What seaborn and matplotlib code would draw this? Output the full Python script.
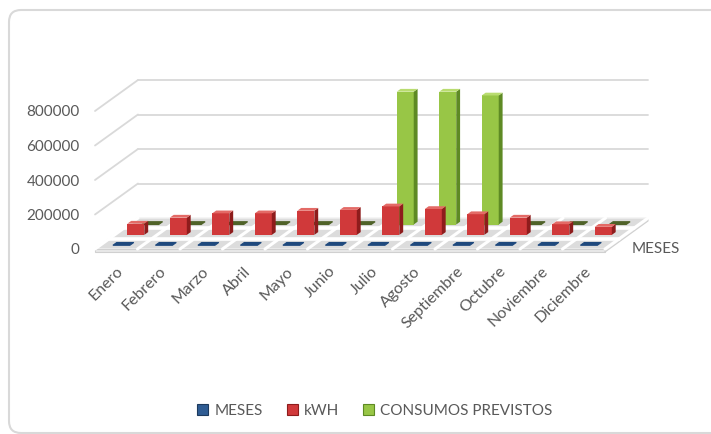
import matplotlib
matplotlib.use("Agg")
import matplotlib.pyplot as plt
import seaborn as sns
from matplotlib.patches import Polygon, FancyBboxPatch, Patch
from matplotlib.transforms import ScaledTranslation, IdentityTransform
from matplotlib.lines import Line2D

# ---------------- data ----------------
meses = ["Enero", "Febrero", "Marzo", "Abril", "Mayo", "Junio", "Julio",
         "Agosto", "Septiembre", "Octubre", "Noviembre", "Diciembre"]
meses_num = [1, 2, 3, 4, 5, 6, 7, 8, 9, 10, 11, 12]
kwh = [65000, 100000, 125000, 125000, 140000, 145000, 165000,
       150000, 120000, 100000, 62000, 47000]
consumos_previstos = [0, 0, 0, 0, 0, 0, 770000, 770000, 748000, 0, 0, 0]
series_names = ["MESES", "kWH", "CONSUMOS PREVISTOS"]
y_ticks = [0, 200000, 400000, 600000, 800000]
y_max = 800000

# ---------------- style ----------------
W, H, DPI = 711, 434, 100
sns.set_theme(style="white")
plt.rcParams["font.family"] = ["Lato", "DejaVu Sans"]
TXT = "#595959"
GRID = "#d9d9d9"

fig = plt.figure(figsize=(W / DPI, H / DPI), dpi=DPI)
fig.patch.set_facecolor("white")
ax = fig.add_axes([95 / W, (H - 249) / H, 510 / W, 138 / H])
ax.set_facecolor("none")

DX, DY = 43.0, 31.0  # full depth of the 3D floor in pixels

styles = {
    "MESES": dict(front="#2f5c93", side="#1d3a5e", top="#3a6aa8", flat="#1f497d",
                  d0=0.12, dd=0.09, z=6),
    "kWH": dict(front="#d0393a", side="#8e1c1c", top="#e36a66", flat="#9e2a28",
                d0=0.455, dd=0.09, z=5),
    "CONSUMOS PREVISTOS": dict(front="#98c646", side="#5e8a24", top="#b9dc70",
                               flat="#4f6228", d0=0.79, dd=0.09, z=4),
}
values = {"MESES": meses_num, "kWH": kwh, "CONSUMOS PREVISTOS": consumos_previstos}

groups = {}
for name in ["CONSUMOS PREVISTOS", "kWH", "MESES"]:
    st = styles[name]
    n0 = len(ax.patches)
    sns.barplot(x=meses, y=values[name], color=st["front"], saturation=1,
                width=0.4, errorbar=None, ax=ax, zorder=st["z"], linewidth=0)
    groups[name] = ax.patches[n0:]

ax.set_xlim(-0.5, len(meses) - 0.5)
ax.set_ylim(0, y_max)


def P(x, y, d):
    px, py = ax.transData.transform((x, y))
    return (px + d * DX, py + d * DY)


ID = IdentityTransform()

# back-wall and side-wall gridlines
for yv in y_ticks[1:]:
    for a, b in [(P(-0.5, yv, 1), P(len(meses) - 0.5, yv, 1)),
                 (P(-0.5, yv, 0), P(-0.5, yv, 1))]:
        ln = Line2D([a[0], b[0]], [a[1], b[1]], color=GRID, lw=1.3,
                    transform=ID, zorder=1, clip_on=False)
        ax.add_line(ln)

# floor
x0f, x1f = -0.5, len(meses) - 0.5
floor = [P(x0f, 0, 0), P(x1f, 0, 0), P(x1f, 0, 1), P(x0f, 0, 1)]
ax.add_patch(Polygon(floor, closed=True, facecolor="#dcdcdc", edgecolor="#f2f2f2",
                     lw=1.0, transform=ID, zorder=2, clip_on=False))
a, b = P(x0f, 0, 0), P(x1f, 0, 0)
ax.add_patch(Polygon([a, b, (b[0], b[1] - 3), (a[0], a[1] - 3)], closed=True,
                     facecolor="#e9e9e9", edgecolor="#d0d0d0", lw=0.8,
                     transform=ID, zorder=2, clip_on=False))
c = P(x1f, 0, 1)
ax.add_patch(Polygon([b, c, (c[0], c[1] - 3), (b[0], b[1] - 3)], closed=True,
                     facecolor="#e9e9e9", edgecolor="#d0d0d0", lw=0.8,
                     transform=ID, zorder=2, clip_on=False))
for k in range(len(meses) + 1):
    xk = k - 0.5
    a, b = P(xk, 0, 0), P(xk, 0, 1)
    ax.add_line(Line2D([a[0], b[0]], [a[1], b[1]], color="white", lw=2.2,
                       transform=ID, zorder=2.5, clip_on=False))
for dk in (1 / 3, 2 / 3):
    a, b = P(x0f, 0, dk), P(x1f, 0, dk)
    ax.add_line(Line2D([a[0], b[0]], [a[1], b[1]], color="white", lw=2.6,
                       transform=ID, zorder=2.5, clip_on=False))

# 3D faces for every bar
for name, patches in groups.items():
    st = styles[name]
    d0, d1 = st["d0"], st["d0"] + st["dd"]
    for p in patches:
        p.set_transform(ax.transData + ScaledTranslation(d0 * DX / DPI, d0 * DY / DPI,
                                                         fig.dpi_scale_trans))
        p.set_clip_on(False)
        bx0 = p.get_x()
        bx1 = bx0 + p.get_width()
        h = p.get_height()
        flat = h < y_max * 0.005
        top = [P(bx0, h, d0), P(bx1, h, d0), P(bx1, h, d1), P(bx0, h, d1)]
        if flat:
            ax.add_patch(Polygon(top, closed=True, facecolor=st["flat"], edgecolor=st["flat"],
                                 lw=0.8, transform=ID, zorder=st["z"] + 0.2, clip_on=False))
            continue
        side = [P(bx1, 0, d0), P(bx1, h, d0), P(bx1, h, d1), P(bx1, 0, d1)]
        ax.add_patch(Polygon(side, closed=True, facecolor=st["side"], edgecolor="none",
                             transform=ID, zorder=st["z"] + 0.1, clip_on=False))
        ax.add_patch(Polygon(top, closed=True, facecolor=st["top"], edgecolor="none",
                             transform=ID, zorder=st["z"] + 0.2, clip_on=False))

# axes cosmetics
for s in ax.spines.values():
    s.set_visible(False)
ax.grid(False)
ax.set_xlabel("")
ax.set_ylabel("")
ax.set_yticks(y_ticks)
ax.set_yticklabels([str(v) for v in y_ticks])
ax.tick_params(axis="y", length=0, pad=11, labelsize=11, labelcolor=TXT)
ax.set_xticks(range(len(meses)))
ax.set_xticklabels(meses, rotation=45, ha="right", va="top", rotation_mode="anchor")
ax.tick_params(axis="x", length=0, pad=11, labelsize=11.5, labelcolor=TXT)

fig.text(632 / W, 1 - 249 / H, "MESES", ha="left", va="center", fontsize=11, color=TXT)

handles = [Patch(facecolor=styles[n]["front"], edgecolor=styles[n]["side"], lw=0.8)
           for n in series_names]
fig.legend(handles, series_names, loc="center", bbox_to_anchor=(375 / W, 1 - 411 / H),
           ncol=3, frameon=False, fontsize=11, handlelength=0.7, handleheight=0.7,
           handletextpad=0.4, columnspacing=1.6, labelcolor=TXT)

border = FancyBboxPatch((9, 1), 720, 423, boxstyle="round,pad=0,rounding_size=12",
                        facecolor="none", edgecolor="#d9d9d9", lw=1.5, transform=ID)
fig.add_artist(border)

fig.savefig("out.png", dpi=DPI)
